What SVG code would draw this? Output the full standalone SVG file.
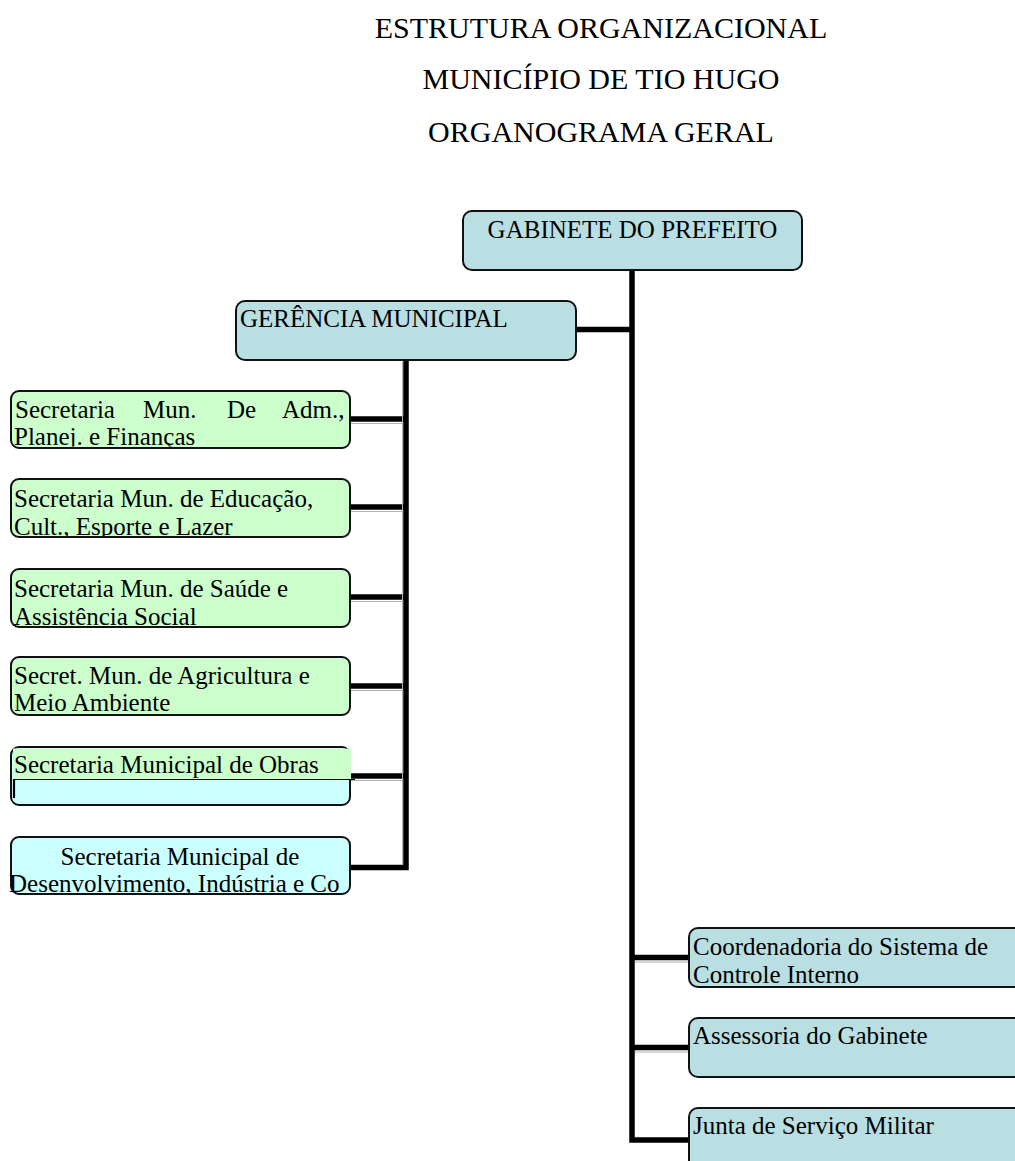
<svg xmlns="http://www.w3.org/2000/svg" width="1015" height="1161" viewBox="0 0 1015 1161">
<style>
.t{font-family:"Liberation Serif","Times New Roman",serif;fill:#000}
.title{font-size:30px;text-anchor:middle}
.lbl{font-size:25px}
.box{stroke:#111;stroke-width:2}
.teal{fill:#BADFE3}
.green{fill:#CCFFCC}
.cyan{fill:#CCFFFF}
.con{stroke:#000;stroke-width:5.5;fill:none}
.shd{stroke:#b0b0b0;stroke-width:1;fill:none}
</style>
<defs>
<clipPath id="c1" clipPathUnits="userSpaceOnUse"><rect x="11" y="391" width="339" height="55.5"/></clipPath>
<clipPath id="c2" clipPathUnits="userSpaceOnUse"><rect x="11" y="479" width="339" height="57"/></clipPath>
<clipPath id="c3" clipPathUnits="userSpaceOnUse"><rect x="11" y="569" width="339" height="57"/></clipPath>
<clipPath id="c4" clipPathUnits="userSpaceOnUse"><rect x="11" y="657" width="339" height="57"/></clipPath>
<clipPath id="c6" clipPathUnits="userSpaceOnUse"><rect x="6" y="837" width="343" height="56"/></clipPath>
</defs>
<rect width="1015" height="1161" fill="#fff"/>
<g id="title">
<text class="t title" x="601" y="38">ESTRUTURA ORGANIZACIONAL</text>
<text class="t title" x="601" y="89">MUNICÍPIO DE TIO HUGO</text>
<text class="t title" x="601" y="142">ORGANOGRAMA GERAL</text>
</g>
<g id="connectors">
<polyline class="con" points="632,270 632,1140 689,1140"/>
<line class="con" x1="576" y1="329.5" x2="632" y2="329.5"/>
<polyline class="con" points="406,360 406,867.5 350,867.5"/>
<line class="con" x1="350" y1="419" x2="406" y2="419"/>
<line class="con" x1="350" y1="507" x2="406" y2="507"/>
<line class="con" x1="350" y1="597" x2="406" y2="597"/>
<line class="con" x1="350" y1="686" x2="406" y2="686"/>
<line class="con" x1="350" y1="776" x2="406" y2="776"/>
<line class="con" x1="632" y1="957.5" x2="689" y2="957.5"/>
<line class="con" x1="632" y1="1047.5" x2="689" y2="1047.5"/>
<path class="shd" d="M350,423.5H403M350,511.5H403M350,601.5H403M350,690.5H403M350,780.5H403M402.5,362V865M635,962H689M635,1052H689"/>
</g>
<g id="gabinete">
<rect class="box teal" x="463" y="211" width="339" height="59" rx="9"/>
<text class="t lbl" x="632.5" y="238" text-anchor="middle">GABINETE DO PREFEITO</text>
</g>
<g id="gerencia">
<rect class="box teal" x="236" y="301" width="340" height="59" rx="9"/>
<text class="t lbl" x="240" y="327">GERÊNCIA MUNICIPAL</text>
</g>
<g id="sec-adm">
<rect class="box green" x="11" y="391" width="339" height="57" rx="8"/>
<g clip-path="url(#c1)">
<text class="t lbl" y="418"><tspan x="15">Secretaria</tspan><tspan x="143">Mun.</tspan><tspan x="227">De</tspan><tspan x="282">Adm.,</tspan></text>
<text class="t lbl" x="14" y="445">Planej. e Finanças</text>
</g>
</g>
<g id="sec-educacao">
<rect class="box green" x="11" y="479" width="339" height="58" rx="8"/>
<g clip-path="url(#c2)">
<text class="t lbl" x="14" y="507">Secretaria Mun. de Educação,</text>
<text class="t lbl" x="14" y="535">Cult., Esporte e Lazer</text>
</g>
</g>
<g id="sec-saude">
<rect class="box green" x="11" y="569" width="339" height="58" rx="8"/>
<g clip-path="url(#c3)">
<text class="t lbl" x="14" y="597">Secretaria Mun. de Saúde e</text>
<text class="t lbl" x="14" y="625">Assistência Social</text>
</g>
</g>
<g id="sec-agricultura">
<rect class="box green" x="11" y="657" width="339" height="58" rx="8"/>
<g clip-path="url(#c4)">
<text class="t lbl" x="14" y="684">Secret. Mun. de Agricultura e</text>
<text class="t lbl" x="14" y="711">Meio Ambiente</text>
</g>
</g>
<g id="sec-obras">
<rect class="box cyan" x="11" y="747" width="339" height="58" rx="8"/>
<rect class="green" x="13" y="748.5" width="338" height="31"/>
<line x1="13" y1="779.5" x2="355" y2="779.5" stroke="#000" stroke-width="1.2"/>
<line x1="14" y1="779.5" x2="14" y2="798" stroke="#000" stroke-width="2.2"/>
<text class="t lbl" x="14" y="773">Secretaria Municipal de Obras</text>
</g>
<g id="sec-desenvolvimento">
<rect class="box cyan" x="11" y="837" width="339" height="57" rx="8"/>
<g clip-path="url(#c6)">
<text class="t lbl" x="180" y="865" text-anchor="middle">Secretaria Municipal de</text>
<text class="t lbl" x="9" y="892">Desenvolvimento, Indústria e Co</text>
</g>
</g>
<g id="coord-controle">
<rect class="box teal" x="689" y="928" width="345" height="59" rx="9"/>
<text class="t lbl" x="693" y="955">Coordenadoria do Sistema de</text>
<text class="t lbl" x="693" y="983">Controle Interno</text>
</g>
<g id="assessoria">
<rect class="box teal" x="689" y="1018" width="345" height="59" rx="9"/>
<text class="t lbl" x="693" y="1044">Assessoria do Gabinete</text>
</g>
<g id="junta">
<rect class="box teal" x="689" y="1108" width="345" height="70" rx="9"/>
<text class="t lbl" x="693" y="1134">Junta de Serviço Militar</text>
</g>
</svg>
